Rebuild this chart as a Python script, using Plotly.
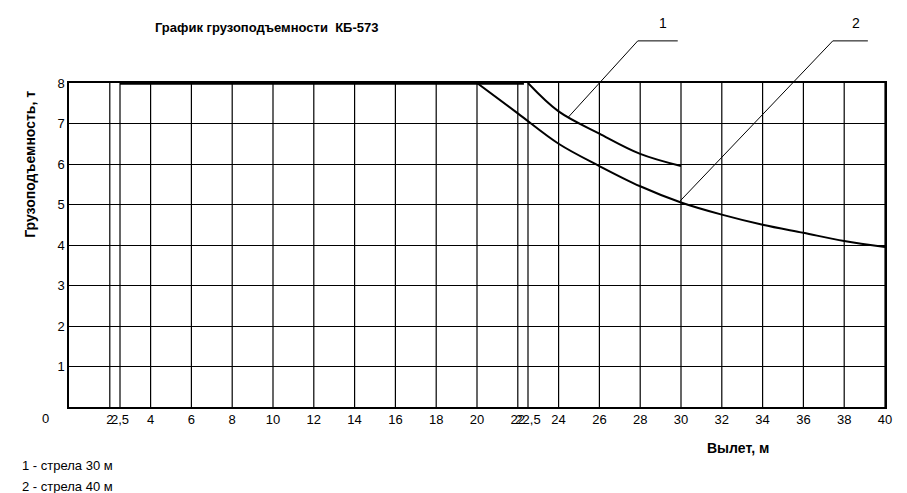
import plotly.graph_objects as go

x_ticks = [2, 2.5, 4, 6, 8, 10, 12, 14, 16, 18, 20, 22, 22.5, 24, 26, 28, 30, 32, 34, 36, 38, 40]
x_tick_text = ["2", "2,5", "4", "6", "8", "10", "12", "14", "16", "18", "20", "22", "22,5",
               "24", "26", "28", "30", "32", "34", "36", "38", "40"]
y_ticks = [1, 2, 3, 4, 5, 6, 7, 8]

flat_x = [2.5, 22.3]
flat_y = [8, 8]
boom30_x = [22.5, 24, 26, 28, 30]
boom30_y = [8, 7.3, 6.75, 6.25, 5.95]
boom40_x = [20, 22, 24, 26, 28, 30, 32, 34, 36, 38, 40]
boom40_y = [8, 7.25, 6.5, 5.95, 5.45, 5.05, 4.75, 4.5, 4.3, 4.1, 3.95]

fig = go.Figure()
fig.add_trace(go.Scatter(x=flat_x, y=flat_y, mode="lines", line=dict(color="black", width=3.5)))
fig.add_trace(go.Scatter(x=boom30_x, y=boom30_y, mode="lines", line=dict(color="black", width=2, shape="spline")))
fig.add_trace(go.Scatter(x=boom40_x, y=boom40_y, mode="lines", line=dict(color="black", width=2, shape="spline")))

for xv in x_ticks:
    fig.add_shape(type="line", x0=xv, x1=xv, y0=0, y1=8, line=dict(color="black", width=1.2), layer="below")

pl = dict(xref="paper", yref="paper", line=dict(color="black", width=1))
fig.add_shape(type="line", x0=0.697, x1=0.746, y0=1.130, y1=1.130, **pl)
fig.add_shape(type="line", x0=0.697, x1=0.611, y0=1.130, y1=0.892, **pl)
fig.add_shape(type="line", x0=0.936, x1=0.979, y0=1.130, y1=1.130, **pl)
fig.add_shape(type="line", x0=0.936, x1=0.749, y0=1.130, y1=0.636, **pl)

def pa(x, y, text, size=13, xanchor="center"):
    return dict(xref="paper", yref="paper", x=x, y=y, text=text, showarrow=False,
                xanchor=xanchor, yanchor="middle", font=dict(size=size))

fig.update_layout(
    width=907, height=493, showlegend=False,
    plot_bgcolor="white", paper_bgcolor="white",
    margin=dict(l=61, r=30, t=75, b=94, autoexpand=False),
    font=dict(family="Liberation Sans, Arial", size=13, color="black"),
    xaxis=dict(range=[0, 40], tickvals=x_ticks, ticktext=x_tick_text, showgrid=False, tickangle=0,
               showline=True, mirror=True, linecolor="black", linewidth=1.5, ticks="",
               tickfont=dict(size=13), zeroline=False, automargin=False),
    yaxis=dict(range=[0, 8], tickvals=y_ticks, showgrid=True, gridcolor="black", gridwidth=1.2,
               showline=True, mirror=True, linecolor="black", linewidth=1.5, ticks="",
               zeroline=False, automargin=False),
    annotations=[
        pa(0.728, 1.185, "1", 14), pa(0.964, 1.185, "2", 14),
        pa(-0.022, -0.036, "0", 13, "right"),
        pa(0.103, 1.17, "<b>График грузоподъемности  КБ-573</b>", 13, "left"),
        pa(0.82, -0.127, "<b>Вылет, м</b>", 14),
        pa(-0.06, -0.182, "1 - стрела 30 м", 13, "left"),
        pa(-0.06, -0.244, "2 - стрела 40 м", 13, "left"),
        dict(xref="paper", yref="paper", x=-0.048, y=0.75, text="<b>Грузоподъемность, т</b>",
             showarrow=False, textangle=-90, xanchor="center", yanchor="middle", font=dict(size=14)),
    ],
)
fig.write_html("out.html")
